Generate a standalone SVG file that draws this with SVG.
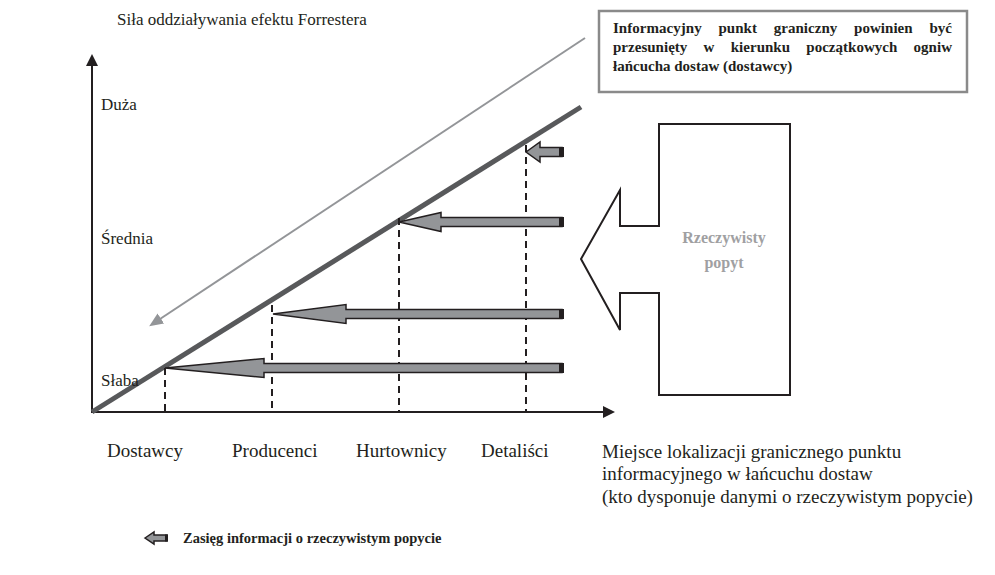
<svg xmlns="http://www.w3.org/2000/svg" width="995" height="575" viewBox="0 0 995 575">
<style>
.t{font-family:"Liberation Serif","Times New Roman",serif;fill:#231f20;}
.lbl{font-size:17px;}
.cat{font-size:19px;}
.b{font-weight:bold;}
.note{font-size:15px;font-weight:bold;}
.axis{stroke:#231f20;stroke-width:2;fill:none;}
.dash{stroke:#231f20;stroke-width:2;stroke-dasharray:7 5;fill:none;}
.fat{fill:#939598;stroke:#231f20;stroke-width:1.5;stroke-linejoin:miter;}
.bar{fill:#231f20;}
</style>
<defs>
<marker id="ah" viewBox="0 0 12 12" refX="1" refY="6" markerWidth="12" markerHeight="12" markerUnits="userSpaceOnUse" orient="auto">
<path d="M0,0 L12,6 L0,12 Z" fill="#231f20"/>
</marker>
<marker id="ahg" viewBox="0 0 14 12" refX="1" refY="6" markerWidth="14" markerHeight="12" markerUnits="userSpaceOnUse" orient="auto">
<path d="M0,0 L14,6 L0,12 Z" fill="#939598"/>
</marker>
</defs>
<rect width="995" height="575" fill="#fff"/>

<g id="connectors">
<line class="axis" x1="92" y1="413" x2="92" y2="65" marker-end="url(#ah)"/>
<line class="axis" x1="91" y1="412" x2="604" y2="412" marker-end="url(#ah)"/>
<line x1="92" y1="412" x2="581" y2="107" stroke="#58595b" stroke-width="5"/>
<line x1="585" y1="38" x2="160" y2="319" stroke="#939598" stroke-width="2" marker-end="url(#ahg)"/>
<line class="dash" x1="165" y1="368" x2="165" y2="412"/>
<line class="dash" x1="272" y1="305" x2="272" y2="412"/>
<line class="dash" x1="399" y1="218" x2="399" y2="412"/>
<line class="dash" x1="526" y1="145" x2="526" y2="412"/>
<path class="fat" d="M526,152 L540,142 L540,147.5 L562,147.5 L562,156.5 L540,156.5 L540,162 Z"/>
<rect class="bar" x="559" y="147" width="5" height="10"/>
<path class="fat" d="M399,222 L441,212.5 L441,217.5 L562,217.5 L562,226.5 L441,226.5 L441,231.5 Z"/>
<rect class="bar" x="559" y="217" width="5" height="10"/>
<path class="fat" d="M273,314 L346,304.5 L346,309.5 L562,309.5 L562,318.5 L346,318.5 L346,323.5 Z"/>
<rect class="bar" x="559" y="309" width="5" height="10"/>
<path class="fat" d="M165,368 L264,358.5 L264,363.5 L562,363.5 L562,372.5 L264,372.5 L264,377.5 Z"/>
<rect class="bar" x="559" y="363" width="5" height="10"/>
</g>

<g id="y-title"><text class="t lbl" x="117" y="25">Siła oddziaływania efektu Forrestera</text></g>
<g id="y-duza"><text class="t lbl" x="101" y="110">Duża</text></g>
<g id="y-srednia"><text class="t lbl" x="101" y="244">Średnia</text></g>
<g id="y-slaba"><text class="t lbl" x="101" y="386">Słaba</text></g>

<g id="x-dostawcy"><text class="t cat" x="107" y="457">Dostawcy</text></g>
<g id="x-producenci"><text class="t cat" x="232" y="457">Producenci</text></g>
<g id="x-hurtownicy"><text class="t cat" x="356" y="457">Hurtownicy</text></g>
<g id="x-detalisci"><text class="t cat" x="481" y="457">Detaliści</text></g>

<g id="x-title">
<text class="t cat" x="602" y="458">Miejsce lokalizacji granicznego punktu</text>
<text class="t cat" x="602" y="480">informacyjnego w łańcuchu dostaw</text>
<text class="t cat" x="602" y="503">(kto dysponuje danymi o rzeczywistym popycie)</text>
</g>

<g id="note-box">
<rect x="599" y="11" width="368" height="81" fill="#fff" stroke="#8a8a8a" stroke-width="2.5"/>
<text class="t note" x="613" y="33" textLength="339" lengthAdjust="spacing" style="word-spacing:13px">Informacyjny punkt graniczny powinien być</text>
<text class="t note" x="613" y="52" textLength="339" lengthAdjust="spacing" style="word-spacing:12.5px">przesunięty w kierunku początkowych ogniw</text>
<text class="t note" x="613" y="71">łańcucha dostaw (dostawcy)</text>
</g>

<g id="demand">
<path d="M659,124 L790,124 L790,395 L659,395 L659,293 L620,293 L620,330 L581,259 L620,190 L620,226 L659,226 Z" fill="#fff" stroke="#231f20" stroke-width="2" stroke-linejoin="miter"/>
<text class="t b" font-size="16" x="724" y="243" text-anchor="middle" style="fill:#a0a0a2">Rzeczywisty</text>
<text class="t b" font-size="16" x="724" y="268" text-anchor="middle" style="fill:#a0a0a2">popyt</text>
</g>

<g id="legend">
<path class="fat" d="M145,538 L154,532 L154,535 L167,535 L167,541 L154,541 L154,544 Z"/>
<rect class="bar" x="165" y="534.5" width="3" height="7"/>
<text class="t b" font-size="14.5" x="183" y="543">Zasięg  informacji o rzeczywistym popycie</text>
</g>
</svg>
